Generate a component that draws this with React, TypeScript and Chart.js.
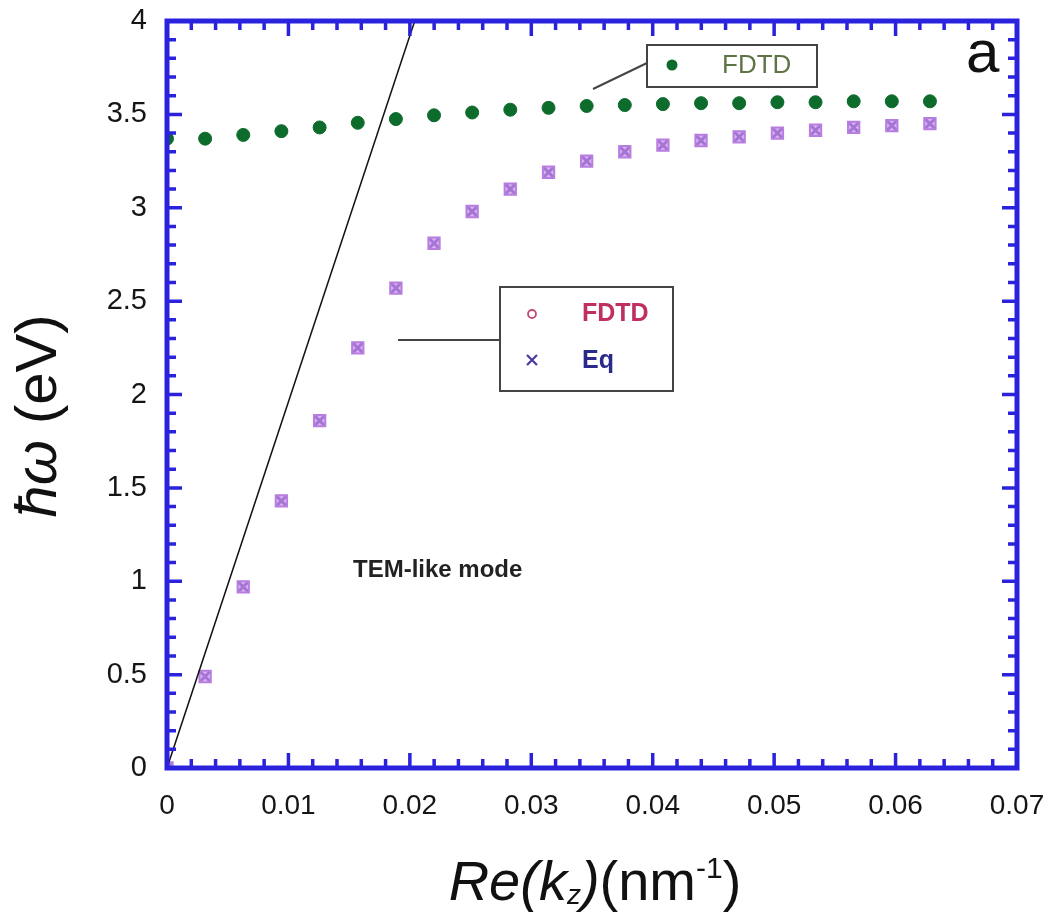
import React, { useEffect, useRef } from "react";
import { Chart, registerables } from "chart.js";

Chart.register(...registerables);

const kz = [0, 0.00314, 0.00628, 0.00942, 0.01257, 0.01571, 0.01885, 0.02199, 0.02513, 0.02827, 0.03142, 0.03456, 0.0377, 0.04084, 0.04398, 0.04712, 0.05027, 0.05341, 0.05655, 0.05969, 0.06283];
const upperFdtd = [3.37, 3.37, 3.39, 3.41, 3.43, 3.455, 3.475, 3.495, 3.51, 3.525, 3.535, 3.545, 3.55, 3.555, 3.56, 3.56, 3.565, 3.565, 3.57, 3.57, 3.57];
const lowerFdtd = [0, 0.49, 0.97, 1.43, 1.86, 2.25, 2.57, 2.81, 2.98, 3.1, 3.19, 3.25, 3.3, 3.335, 3.36, 3.38, 3.4, 3.415, 3.43, 3.44, 3.45];
const lowerEq = [0, 0.49, 0.97, 1.43, 1.86, 2.25, 2.57, 2.81, 2.98, 3.1, 3.19, 3.25, 3.3, 3.335, 3.36, 3.38, 3.4, 3.415, 3.43, 3.44, 3.45];
const lightLineX = [0, 0.0204];
const lightLineY = [0, 4];
const xTicks = [0, 0.01, 0.02, 0.03, 0.04, 0.05, 0.06, 0.07];
const yTicks = [0, 0.5, 1, 1.5, 2, 2.5, 3, 3.5, 4];

const FONT = "'Liberation Sans', Arial, sans-serif";
const BLUE = "#2a22dc";

const toPts = (xs: number[], ys: number[]) => xs.map((x, i) => ({ x, y: ys[i] }));

const framePlugin = {
  id: "frame",
  afterDatasetsDraw(chart: any) {
    const { ctx, chartArea: a, scales } = chart;
    const xs = scales.x, ys = scales.y;
    ctx.save();
    ctx.strokeStyle = BLUE;
    ctx.lineCap = "butt";
    ctx.lineWidth = 3.5;
    for (let i = 0; i <= 35; i++) {
      const v = i * 0.002;
      const px = xs.getPixelForValue(v);
      const len = i % 5 === 0 ? 15 : 9;
      ctx.beginPath();
      ctx.moveTo(px, a.bottom);
      ctx.lineTo(px, a.bottom - len);
      ctx.moveTo(px, a.top);
      ctx.lineTo(px, a.top + len);
      ctx.stroke();
    }
    for (let i = 0; i <= 40; i++) {
      const v = i * 0.1;
      const py = ys.getPixelForValue(v);
      const len = i % 5 === 0 ? 15 : 9;
      ctx.beginPath();
      ctx.moveTo(a.left, py);
      ctx.lineTo(a.left + len, py);
      ctx.moveTo(a.right, py);
      ctx.lineTo(a.right - len, py);
      ctx.stroke();
    }
    ctx.lineWidth = 5;
    ctx.strokeRect(a.left, a.top, a.right - a.left, a.bottom - a.top);

    // "a" label
    ctx.fillStyle = "#111";
    ctx.font = `60px ${FONT}`;
    ctx.textAlign = "left";
    ctx.textBaseline = "alphabetic";
    ctx.fillText("a", 966, 72);

    // TEM-like mode
    ctx.font = `bold 24px ${FONT}`;
    ctx.fillStyle = "#222";
    ctx.fillText("TEM-like mode", 353, 577);

    // Legend 1
    ctx.strokeStyle = "#444";
    ctx.lineWidth = 2;
    ctx.beginPath();
    ctx.moveTo(593, 89);
    ctx.lineTo(647, 63);
    ctx.stroke();
    ctx.fillStyle = "#fff";
    ctx.fillRect(647, 45, 170, 42);
    ctx.strokeRect(647, 45, 170, 42);
    ctx.fillStyle = "#0d6b2c";
    ctx.beginPath();
    ctx.arc(672, 65, 5.5, 0, Math.PI * 2);
    ctx.fill();
    ctx.fillStyle = "#5f7444";
    ctx.font = `26px ${FONT}`;
    ctx.textBaseline = "middle";
    ctx.fillText("FDTD", 722, 66);

    // Legend 2
    ctx.strokeStyle = "#444";
    ctx.beginPath();
    ctx.moveTo(398, 340);
    ctx.lineTo(500, 340);
    ctx.stroke();
    ctx.fillStyle = "#fff";
    ctx.fillRect(500, 287, 173, 104);
    ctx.strokeRect(500, 287, 173, 104);
    ctx.strokeStyle = "#c04a7a";
    ctx.lineWidth = 1.8;
    ctx.beginPath();
    ctx.arc(532, 314, 4, 0, Math.PI * 2);
    ctx.stroke();
    ctx.strokeStyle = "#4a3aa0";
    ctx.lineWidth = 2.2;
    ctx.beginPath();
    ctx.moveTo(527, 355);
    ctx.lineTo(537, 365);
    ctx.moveTo(537, 355);
    ctx.lineTo(527, 365);
    ctx.stroke();
    ctx.font = `bold 25px ${FONT}`;
    ctx.fillStyle = "#c0305e";
    ctx.fillText("FDTD", 582, 314);
    ctx.fillStyle = "#2a2a8a";
    ctx.fillText("Eq", 582, 361);

    // Y axis title (rotated)
    ctx.save();
    ctx.translate(40, 416);
    ctx.rotate(-Math.PI / 2);
    ctx.fillStyle = "#111";
    ctx.textBaseline = "middle";
    const f1 = `italic 58px ${FONT}`;
    const f2 = `58px ${FONT}`;
    ctx.font = f1;
    const w1 = ctx.measureText("ħω").width;
    ctx.font = f2;
    const w2 = ctx.measureText(" (eV)").width;
    const sx = -(w1 + w2) / 2;
    ctx.font = f1;
    ctx.textAlign = "left";
    ctx.fillText("ħω", sx, 0);
    ctx.font = f2;
    ctx.fillText(" (eV)", sx + w1, 0);
    ctx.restore();

    // X axis title
    const segs = [
      { t: "Re(k", f: `italic 56px ${FONT}`, dy: 0 },
      { t: "z", f: `italic 28px ${FONT}`, dy: 4 },
      { t: ")", f: `italic 56px ${FONT}`, dy: 0 },
      { t: "(nm", f: `56px ${FONT}`, dy: 0 },
      { t: "-1", f: `30px ${FONT}`, dy: -22 },
      { t: ")", f: `56px ${FONT}`, dy: 0 },
    ];
    let total = 0;
    const widths = segs.map((s) => {
      ctx.font = s.f;
      const w = ctx.measureText(s.t).width;
      total += w;
      return w;
    });
    let cx = 595 - total / 2;
    ctx.fillStyle = "#111";
    ctx.textAlign = "left";
    ctx.textBaseline = "alphabetic";
    segs.forEach((s, i) => {
      ctx.font = s.f;
      ctx.fillText(s.t, cx, 900 + s.dy);
      cx += widths[i];
    });
    ctx.restore();
  },
};

export default function App() {
  const ref = useRef<HTMLCanvasElement>(null);
  useEffect(() => {
    if (!ref.current) return;
    const chart = new Chart(ref.current, {
      type: "scatter",
      data: {
        datasets: [
          {
            label: "light",
            data: toPts(lightLineX, lightLineY),
            showLine: true,
            borderColor: "#111",
            borderWidth: 1.5,
            pointRadius: 0,
          },
          {
            label: "FDTD upper",
            data: toPts(kz, upperFdtd),
            backgroundColor: "#0d6b2c",
            borderColor: "#0d6b2c",
            pointRadius: 6.5,
            pointStyle: "circle",
          },
          {
            label: "FDTD lower",
            data: toPts(kz, lowerFdtd),
            backgroundColor: "rgba(200,150,235,0.7)",
            borderColor: "#b77ee0",
            borderWidth: 2,
            pointRadius: 8,
            pointStyle: "rect",
          },
          {
            label: "Eq",
            data: toPts(kz, lowerEq),
            borderColor: "#5526a0",
            borderWidth: 3,
            pointRadius: 7,
            pointStyle: "crossRot",
          },
        ],
      },
      options: {
        responsive: false,
        animation: false,
        layout: { padding: { top: 21, right: 43, left: 0, bottom: 0 } },
        plugins: { legend: { display: false }, tooltip: { enabled: false } },
        scales: {
          x: {
            type: "linear",
            min: 0,
            max: 0.07,
            grid: { display: false, drawTicks: false },
            border: { display: false },
            afterBuildTicks: (s: any) => {
              s.ticks = xTicks.map((v) => ({ value: v }));
            },
            afterFit: (s: any) => {
              s.height = 145;
              s.paddingLeft = 0;
              s.paddingRight = 0;
            },
            ticks: {
              padding: 21,
              color: "#151515",
              font: { family: "Liberation Sans", size: 28 },
              callback: (v: any) => String(+Number(v).toFixed(3)),
            },
          },
          y: {
            type: "linear",
            min: 0,
            max: 4,
            grid: { display: false, drawTicks: false },
            border: { display: false },
            afterBuildTicks: (s: any) => {
              s.ticks = yTicks.map((v) => ({ value: v }));
            },
            afterFit: (s: any) => {
              s.width = 167;
              s.paddingTop = 0;
              s.paddingBottom = 0;
            },
            ticks: {
              padding: 20,
              color: "#151515",
              font: { family: "Liberation Sans", size: 29 },
              callback: (v: any) => String(+Number(v).toFixed(2)),
            },
          },
        },
      },
      plugins: [framePlugin],
    });
    return () => chart.destroy();
  }, []);
  return (
    <div style={{ position: "absolute", left: 0, top: 0, width: 1060, height: 913, background: "#fff" }}>
      <canvas ref={ref} width={1060} height={913} />
    </div>
  );
}
